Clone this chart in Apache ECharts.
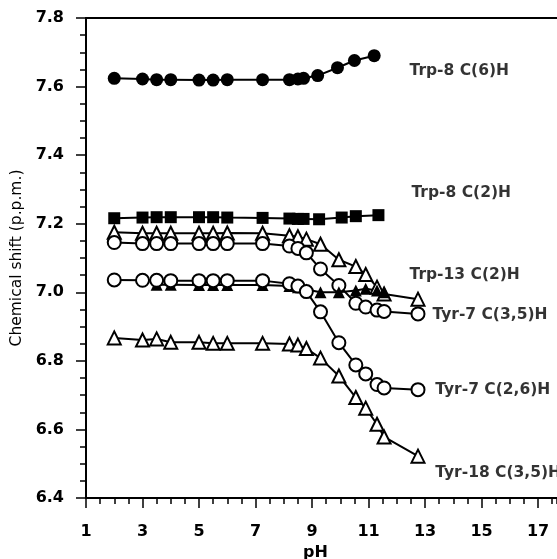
<!DOCTYPE html>
<html lang="en" style="height: 100%">
<head>
<meta charset="utf-8">
<title>Chemical shift vs pH</title>
</head>
<body style="height: 100%; margin: 0; background: #fff">
<div id="container" style="width: 557px; height: 559px"></div>

<script type="text/javascript" src="https://cdn.jsdelivr.net/npm/echarts@6/dist/echarts.min.js"></script>

<script type="text/javascript">

// pH points of each titration
var phTrp8C6 = [2.0, 3.0, 3.5, 4.0, 5.0, 5.5, 6.0, 7.25, 8.2, 8.5, 8.7, 9.2, 9.9, 10.5, 11.2];
var phTrp8C2 = [2.0, 3.0, 3.5, 4.0, 5.0, 5.5, 6.0, 7.25, 8.2, 8.5, 8.7, 9.25, 10.05, 10.55, 11.35];
var phTyr = [2.0, 3.0, 3.5, 4.0, 5.0, 5.5, 6.0, 7.25, 8.2, 8.5, 8.8, 9.3, 9.95, 10.55, 10.9, 11.3, 11.55, 12.75];
var phFilledTri = [3.5, 4.0, 5.0, 5.5, 6.0, 7.25, 8.2, 8.5, 8.8, 9.3, 9.95, 10.55, 10.9, 11.3, 11.55];

// chemical shifts (p.p.m.)
var trp8C6 = [7.624, 7.622, 7.620, 7.620, 7.619, 7.619, 7.620, 7.620, 7.620, 7.622, 7.624, 7.632, 7.655, 7.676, 7.690];
var trp8C2 = [7.216, 7.218, 7.219, 7.219, 7.219, 7.219, 7.218, 7.217, 7.215, 7.214, 7.214, 7.213, 7.218, 7.222, 7.225];
var openTriUpper = [7.175, 7.172, 7.172, 7.172, 7.172, 7.172, 7.173, 7.172, 7.165, 7.162, 7.155, 7.140, 7.095, 7.075, 7.052, 7.015, 6.995, 6.980];
var openCircUpper = [7.145, 7.142, 7.142, 7.142, 7.142, 7.142, 7.142, 7.142, 7.135, 7.128, 7.115, 7.068, 7.020, 6.968, 6.957, 6.948, 6.944, 6.937];
var filledTri = [7.022, 7.022, 7.021, 7.021, 7.021, 7.021, 7.018, 7.015, 7.008, 7.000, 7.000, 7.005, 7.010, 7.005, 7.000];
var openCircLower = [7.036, 7.035, 7.035, 7.034, 7.034, 7.034, 7.034, 7.034, 7.025, 7.018, 7.002, 6.943, 6.853, 6.788, 6.762, 6.731, 6.721, 6.716];
var tyr18 = [6.867, 6.861, 6.864, 6.854, 6.854, 6.851, 6.851, 6.851, 6.849, 6.846, 6.836, 6.808, 6.756, 6.693, 6.662, 6.615, 6.578, 6.522];

// curve labels: [pH, shift, text]
var curveLabels = [
    [12.45, 7.645, 'Trp-8 C(6)H'],
    [12.52, 7.291, 'Trp-8 C(2)H'],
    [12.45, 7.051, 'Trp-13 C(2)H'],
    [13.26, 6.934, 'Tyr-7 C(3,5)H'],
    [13.36, 6.715, 'Tyr-7 C(2,6)H'],
    [13.36, 6.473, 'Tyr-18 C(3,5)H']
];

var xTicks = [1, 3, 5, 7, 9, 11, 13, 15, 17];
var xMin = 1;
var xMax = 17.67;

var dom = document.getElementById('container');
var myChart = echarts.init(dom, null, { renderer: 'canvas' });
var option;

function pairs(xs, ys) {
    return xs.map(function (x, i) { return [x, ys[i]]; });
}

function curve(name, xs, ys, symbol, filled, size) {
    return {
        name: name,
        type: 'line',
        data: pairs(xs, ys),
        symbol: symbol,
        symbolSize: size,
        showAllSymbol: true,
        lineStyle: { color: '#000', width: 2 },
        itemStyle: {
            color: filled ? '#000' : '#fff',
            borderColor: '#000',
            borderWidth: filled ? 0 : 2
        },
        emphasis: { disabled: true },
        animation: false
    };
}

var tickFont = { fontFamily: 'DejaVu Sans', fontWeight: 'bold', fontSize: 16, color: '#000' };
var black = { color: '#000', width: 2 };

option = {
    backgroundColor: '#fff',
    grid: { left: 86, right: 0, top: 18, bottom: 61, outerBoundsMode: 'none', containLabel: false },
    xAxis: [
        {
            type: 'value',
            position: 'bottom',
            min: xMin,
            max: xMax,
            interval: 2,
            name: 'pH',
            nameLocation: 'middle',
            nameGap: 44,
            nameTextStyle: {
                fontFamily: 'DejaVu Sans', fontWeight: 'bold', fontSize: 16, color: '#000',
                padding: [0, 12, 0, 0]
            },
            axisLine: { lineStyle: black },
            axisTick: { length: 10, lineStyle: { color: '#000', width: 1.5 } },
            splitLine: { show: false },
            axisLabel: Object.assign({ margin: 26, showMaxLabel: false,
                formatter: function (v) { return xTicks.indexOf(v) >= 0 ? String(v) : ''; } }, tickFont)
        },
        {
            // minor ticks every 0.5
            type: 'value',
            position: 'bottom',
            min: xMin,
            max: xMax,
            interval: 0.5,
            axisLine: { show: false },
            axisTick: { length: 6, lineStyle: { color: '#000', width: 1.5 } },
            axisLabel: { show: false },
            splitLine: { show: false }
        },
        {
            // top frame line
            type: 'value',
            position: 'top',
            min: xMin,
            max: xMax,
            axisLine: { lineStyle: black },
            axisTick: { show: false },
            axisLabel: { show: false },
            splitLine: { show: false }
        }
    ],
    yAxis: {
        type: 'value',
        min: 6.4,
        max: 7.8,
        interval: 0.2,
        name: 'Chemical shift (p.p.m.)',
        nameLocation: 'middle',
        nameGap: 57,
        nameTextStyle: { fontFamily: 'DejaVu Sans', fontSize: 15.5, color: '#000' },
        axisLine: { lineStyle: black },
        axisTick: { length: 10, lineStyle: { color: '#000', width: 1.5 } },
        minorTick: { show: true, splitNumber: 4, length: 6, lineStyle: { color: '#000', width: 1.5 } },
        splitLine: { show: false },
        axisLabel: Object.assign({ margin: 22,
            formatter: function (v) { return v.toFixed(1); } }, tickFont)
    },
    series: [
        curve('Trp-8 C(6)H', phTrp8C6, trp8C6, 'circle', true, 13),
        curve('Trp-8 C(2)H', phTrp8C2, trp8C2, 'rect', true, 12),
        curve('Trp-13 C(2)H', phTyr, openTriUpper, 'triangle', false, 13),
        curve('Tyr-7 upper', phTyr, openCircUpper, 'circle', false, 13),
        curve('filled triangles', phFilledTri, filledTri, 'triangle', true, 12),
        curve('Tyr-7 lower', phTyr, openCircLower, 'circle', false, 13),
        curve('Tyr-18 C(3,5)H', phTyr, tyr18, 'triangle', false, 13),
        {
            name: 'labels',
            type: 'scatter',
            data: curveLabels,
            symbolSize: 0,
            silent: true,
            animation: false,
            label: {
                show: true,
                position: 'right',
                distance: 0,
                formatter: function (p) { return p.value[2]; },
                fontFamily: 'DejaVu Sans',
                fontWeight: 'bold',
                fontSize: 15.5,
                color: '#000'
            }
        }
    ]
};

if (option && typeof option === 'object') {
    myChart.setOption(option);
}

window.addEventListener('resize', myChart.resize);
</script>
</body>
</html>
